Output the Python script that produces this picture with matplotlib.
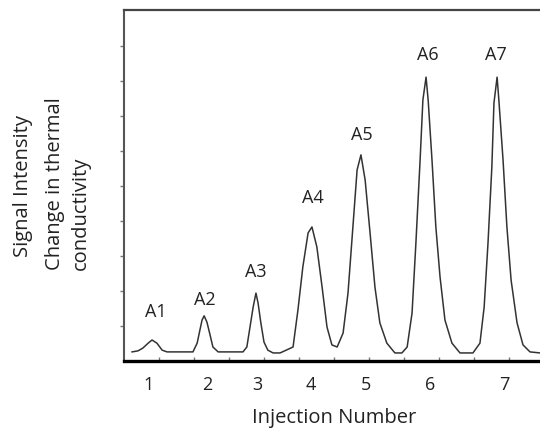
import matplotlib
matplotlib.use("Agg")
import matplotlib.pyplot as plt

plt.rcParams['font.family'] = ['Open Sans', 'DejaVu Sans']

# Traced detector trace (time in tick units, signal in tick units)
trace_time = [0.23, 0.40, 0.54, 0.69, 0.80, 0.94, 1.09, 1.23, 1.97, 2.09, 2.17, 2.23,
              2.29, 2.37, 2.46, 2.54, 2.69, 3.40, 3.51, 3.60, 3.69, 3.77, 3.83, 3.91,
              4.00, 4.11, 4.26, 4.46, 4.83, 4.97, 5.11, 5.26, 5.37, 5.51, 5.66, 5.80,
              5.94, 6.09, 6.26, 6.40, 6.54, 6.66, 6.77, 6.89, 7.03, 7.17, 7.31, 7.51,
              7.74, 7.94, 8.09, 8.23, 8.34, 8.46, 8.54, 8.63, 8.69, 8.80, 8.91, 9.03,
              9.17, 9.37, 9.60, 9.97, 10.17, 10.29, 10.40, 10.51, 10.57, 10.66, 10.71,
              10.83, 10.94, 11.06, 11.23, 11.40, 11.60, 11.89]
trace_signal = [0.26, 0.29, 0.37, 0.51, 0.60, 0.51, 0.31, 0.26, 0.26, 0.51, 0.89, 1.17,
                1.29, 1.11, 0.74, 0.40, 0.26, 0.26, 0.40, 0.97, 1.54, 1.94, 1.66, 1.09,
                0.54, 0.31, 0.23, 0.23, 0.40, 1.46, 2.69, 3.66, 3.83, 3.26, 2.11, 0.97,
                0.46, 0.40, 0.80, 1.94, 3.83, 5.46, 5.89, 5.17, 3.66, 2.11, 1.09, 0.51,
                0.23, 0.23, 0.40, 1.37, 3.37, 5.74, 7.46, 8.11, 7.46, 5.74, 3.83, 2.40,
                1.17, 0.51, 0.23, 0.23, 0.51, 1.54, 3.37, 5.54, 7.37, 8.11, 7.46,
                5.74, 3.83, 2.31, 1.09, 0.46, 0.26, 0.23]

peak_names = ['A1', 'A2', 'A3', 'A4', 'A5', 'A6', 'A7']
peak_label_x = [0.91, 2.31, 3.77, 5.40, 6.80, 8.69, 10.63]
peak_label_y = [1.40, 1.74, 2.54, 4.66, 6.46, 8.74, 8.74]

injection_numbers = ['1', '2', '3', '4', '5', '6', '7']
injection_x = [0.69, 2.37, 3.80, 5.34, 6.91, 8.74, 10.86]

W, H = 540, 429
fig = plt.figure(figsize=(W / 100, H / 100), dpi=100)
left = 124 / W
bottom = (H - 361) / H
top = (H - 10) / H
ax = fig.add_axes([left, bottom, 1 - left, top - bottom])

ax.plot(trace_time, trace_signal, color='#333333', lw=1.1, solid_joinstyle='round')

ax.set_xlim(0, (540 - 124) / 35)
ax.set_ylim(0, (361 - 10) / 35)

ax.spines['right'].set_visible(False)
ax.spines['top'].set_color('#444444')
ax.spines['top'].set_linewidth(1.6)
ax.spines['left'].set_color('#555555')
ax.spines['left'].set_linewidth(1.5)
ax.spines['bottom'].set_color('#000000')
ax.spines['bottom'].set_linewidth(2.4)

ax.set_xticks(range(1, 12))
ax.set_yticks(range(1, 10))
ax.tick_params(axis='x', direction='in', length=3, width=1, color='#777777',
               labelbottom=False)
ax.tick_params(axis='y', direction='out', length=3, width=1, color='#777777',
               labelleft=False)

txt_color = '#222222'
for name, x, y in zip(peak_names, peak_label_x, peak_label_y):
    ax.text(x, y, name, ha='center', va='center', fontsize=13, color=txt_color)

for lab, x in zip(injection_numbers, injection_x):
    ax.text(x, -0.686, lab, ha='center', va='center', fontsize=13,
            color=txt_color, clip_on=False)

fig.text(334 / W, 1 - 418 / H, 'Injection Number', ha='center', va='center',
         fontsize=14.5, color=txt_color)
fig.text(23 / W, 1 - 186 / H, 'Signal Intensity', rotation=90, ha='center',
         va='center', fontsize=14.5, color=txt_color)
fig.text(68 / W, 1 - 270 / H, 'Change in thermal\nconductivity', rotation=90,
         ha='center', va='bottom', multialignment='left', fontsize=14.5,
         linespacing=1.45, color=txt_color)

fig.savefig('out.png', dpi=100)
